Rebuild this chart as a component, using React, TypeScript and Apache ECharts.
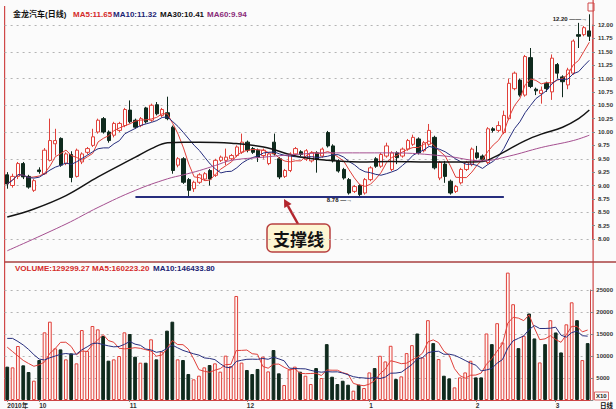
import React, { useEffect, useRef } from 'react';
import * as echarts from 'echarts';

// ---- price data, one entry per trading day ----
const opens = [
  9.20, 9.00, 9.17, 9.41, 9.17, 8.91, 9.29, 9.22, 9.47, 9.78,
  9.88, 9.41, 9.58, 9.17, 9.44, 9.62, 9.75, 10.00, 10.25, 10.00,
  9.94, 10.03, 10.12, 10.41, 10.22, 10.12, 10.45, 10.22, 10.51, 10.31,
  10.36, 10.09, 9.38, 9.50, 9.11, 8.94, 9.06, 9.12, 9.28, 9.19,
  9.47, 9.47, 9.50, 9.56, 9.62, 9.81, 9.69, 9.66, 9.56, 9.41,
  9.81, 9.50, 9.17, 9.28, 9.59, 9.63, 9.49, 9.46, 9.61, 9.55,
  9.99, 9.74, 9.46, 9.30, 9.11, 8.89, 9.00, 8.86, 9.11, 9.50,
  9.36, 9.55, 9.30, 9.61, 9.55, 9.68, 9.77, 9.87, 9.65, 9.77,
  9.90, 9.14, 9.40, 9.08, 8.89, 9.05, 9.30, 9.39, 9.61, 9.55,
  9.43, 10.06, 10.03, 9.99, 10.25, 10.81, 10.97, 10.69, 11.39, 10.80,
  10.72, 10.91, 10.75, 11.26, 11.03, 10.88, 11.10, 11.82, 11.82, 11.89,
];
const closes = [
  9.03, 9.17, 9.41, 9.16, 8.97, 9.09, 9.26, 9.66, 9.84, 9.84,
  9.38, 9.59, 9.15, 9.66, 9.59, 9.69, 9.91, 10.22, 10.00, 9.84,
  10.16, 10.16, 10.42, 10.19, 10.09, 10.25, 10.19, 10.50, 10.34, 10.42,
  10.25, 9.28, 9.50, 9.06, 8.91, 9.06, 9.20, 9.22, 9.12, 9.47,
  9.53, 9.53, 9.56, 9.72, 9.81, 9.66, 9.62, 9.53, 9.66, 9.59,
  9.59, 9.16, 9.28, 9.59, 9.69, 9.58, 9.65, 9.61, 9.49, 9.68,
  9.74, 9.46, 9.27, 9.14, 8.86, 8.98, 8.83, 9.11, 9.33, 9.36,
  9.58, 9.74, 9.61, 9.52, 9.68, 9.84, 9.90, 9.61, 9.80, 10.03,
  9.33, 9.43, 9.17, 8.86, 8.98, 9.30, 9.43, 9.68, 9.52, 9.49,
  10.06, 10.03, 10.12, 10.31, 10.91, 11.10, 10.69, 11.41, 10.85, 10.77,
  10.78, 10.81, 11.38, 11.10, 10.94, 11.16, 11.70, 11.79, 11.95, 11.79,
];
const lows = [
  8.94, 8.96, 9.12, 9.12, 8.94, 8.88, 9.22, 9.20, 9.45, 9.56,
  9.35, 9.38, 9.06, 9.15, 9.40, 9.58, 9.72, 9.97, 9.97, 9.80,
  9.90, 10.00, 10.09, 10.16, 10.06, 10.09, 10.16, 10.19, 10.31, 10.28,
  10.22, 9.22, 9.34, 9.03, 8.80, 8.88, 9.03, 9.09, 9.00, 9.16,
  9.44, 9.38, 9.47, 9.53, 9.59, 9.62, 9.59, 9.44, 9.50, 9.38,
  9.56, 9.12, 9.14, 9.25, 9.56, 9.55, 9.46, 9.43, 9.24, 9.52,
  9.71, 9.43, 9.24, 9.11, 8.83, 8.86, 8.78, 8.83, 9.08, 9.33,
  9.33, 9.52, 9.27, 9.40, 9.52, 9.65, 9.74, 9.58, 9.62, 9.74,
  9.30, 9.10, 9.05, 8.83, 8.86, 9.02, 9.27, 9.36, 9.49, 9.46,
  9.40, 9.99, 10.00, 9.96, 10.22, 10.78, 10.66, 10.66, 10.82, 10.69,
  10.53, 10.75, 10.60, 11.00, 10.65, 10.80, 11.07, 11.57, 11.79, 11.70,
];
const highs = [
  9.25, 9.22, 9.44, 9.44, 9.20, 9.12, 9.34, 9.70, 10.25, 10.06,
  9.90, 9.62, 9.64, 9.69, 9.62, 9.72, 10.06, 10.25, 10.28, 10.03,
  10.19, 10.19, 10.45, 10.59, 10.25, 10.28, 10.47, 10.53, 10.56, 10.45,
  10.66, 10.12, 9.53, 9.53, 9.14, 9.09, 9.23, 9.25, 9.31, 9.50,
  9.56, 9.69, 9.59, 9.75, 9.97, 9.84, 9.72, 9.69, 9.69, 9.62,
  9.97, 9.53, 9.31, 9.62, 9.72, 9.66, 9.68, 9.64, 9.64, 9.71,
  10.02, 9.77, 9.49, 9.33, 9.14, 9.01, 9.03, 9.14, 9.36, 9.53,
  9.61, 9.80, 9.64, 9.64, 9.71, 9.87, 9.95, 9.90, 9.83, 10.15,
  9.93, 9.46, 9.46, 9.11, 9.01, 9.33, 9.46, 9.71, 9.74, 9.58,
  10.09, 10.09, 10.20, 10.40, 11.00, 11.13, 11.00, 11.44, 11.57, 10.83,
  10.85, 10.94, 11.45, 11.29, 11.06, 11.20, 11.73, 12.04, 11.98, 12.20,
];
// volume, in units of 10 shares (axis is marked X10)
const volumes = [
  7580, 7420, 12270, 7880, 6360, 4390, 9090, 15380, 17800, 11740,
  11500, 9240, 10600, 8330, 15900, 11140, 16820, 16060, 14550, 8940,
  9240, 10000, 15380, 15000, 9850, 8480, 8480, 13790, 9240, 10990,
  15760, 17800, 9240, 9090, 5910, 4700, 5530, 7420, 7950, 8330,
  6440, 10080, 7730, 23640, 8500, 6820, 5900, 7050, 9850, 6500,
  11360, 6060, 3400, 6970, 7580, 6430, 5520, 3630, 7260, 4990,
  12700, 5290, 3630, 4380, 3480, 2120, 3480, 2720, 6270, 7260,
  10050, 8770, 12320, 4760, 5370, 10660, 12470, 15120, 9680, 18140,
  12930, 9300, 5520, 4910, 2870, 5140, 6270, 8920, 5140, 5140,
  15120, 12700, 17460, 13080, 28950, 21770, 11790, 14590, 19660, 13990,
  8540, 12700, 18140, 15350, 10810, 17200, 22200, 18140, 9070, 12930,
];
// volume averages on the first days (their windows reach before the picture)
const volMa5Lead = [12000, 11000, 10000, 9000];
const volMa10Lead = [14000, 14000, 13300, 12500, 11500, 10300, 9300, 9100, 9600];
// long price averages at sample days: [dayIndex, value]
const ma30Points = [
  [0, 8.41], [5, 8.56], [11, 8.81], [17, 9.16], [24, 9.53], [27, 9.69], [30, 9.80],
  [33, 9.81], [36, 9.81], [42, 9.79], [48, 9.72], [54, 9.55], [60, 9.47], [66, 9.44],
  [72, 9.45], [79, 9.44], [85, 9.44], [89, 9.45], [91, 9.52], [94, 9.68], [97, 9.84],
  [100, 9.96], [104, 10.09], [107, 10.25], [109, 10.41],
];
const ma60Points = [
  [0, 7.78], [11, 8.28], [17, 8.59], [24, 8.91], [30, 9.125], [33, 9.2], [36, 9.28],
  [39, 9.375], [42, 9.47], [48, 9.53], [54, 9.58], [60, 9.61], [72, 9.61], [82, 9.55],
  [89, 9.46], [94, 9.55], [100, 9.71], [106, 9.84], [109, 9.94],
];
const monthIdx = [0, 6, 23, 45, 68, 88, 103];
const monthText = ['2010年', '10', '11', '12', '1', '2', '3'];
const priceTicks = { min: 8, max: 12, step: 0.25 };
const volTicks = { min: 0, max: 25000, step: 5000 };
const supportLevel = 8.79;
const supportFrom = 24;
const supportTo = 93;
const lowMark = { day: 66, value: 8.78 };
const highMark = { day: 109, value: 12.2 };

function movingAvg(src: number[], n: number, lead: number[] = []): number[] {
  return src.map((_, i) => {
    if (i < lead.length) return lead[i];
    const s = Math.max(0, i - n + 1);
    let sum = 0;
    for (let k = s; k <= i; k++) sum += src[k];
    return +(sum / (i - s + 1)).toFixed(3);
  });
}

const RED = '#e0403a';
const NAVY = '#262d7d';
const DARK = '#0f2a1d';
const PURPLE = '#a54f90';
const LAT = '"Liberation Sans", Arial, "Noto Sans CJK SC", sans-serif';

export default function App() {
  const ref = useRef<HTMLDivElement>(null);
  useEffect(() => {
    const chart = echarts.init(ref.current!, null, { renderer: 'svg' });
    const cats = opens.map((_, i) => 'd' + i);
    const kdata = opens.map((o, i) => [o, closes[i], lows[i], highs[i]]);
    const ma5 = movingAvg(closes, 5);
    const ma10 = movingAvg(closes, 10);
    const vma5 = movingAvg(volumes, 5, volMa5Lead);
    const vma10 = movingAvg(volumes, 10, volMa10Lead);
    const volData = volumes.map((v, i) => {
      const up = closes[i] >= opens[i];
      return {
        value: v,
        itemStyle: up
          ? { color: '#fff6f4', borderColor: RED, borderWidth: 1 }
          : { color: DARK, borderColor: DARK, borderWidth: 1 },
      };
    });
    const gridColor = '#b4b4b4';
    const clear = 'rgba(0,0,0,0)';
    const L = 4.6;
    const W = 588.5;
    const axisLab = { fontSize: 6, fontWeight: 'bold' as const, color: '#333', fontFamily: LAT };

    const txt = (x: number, y: number, text: string, fill: string, size = 8, weight = 'bold', align = 'left') => ({
      type: 'text', x, y, silent: true,
      style: { text, fill, fontSize: size, fontWeight: weight, fontFamily: LAT, verticalAlign: 'middle', align },
    });
    const ln = (x1: number, y1: number, x2: number, y2: number, stroke: string, w = 1) => ({
      type: 'line', silent: true, shape: { x1, y1, x2, y2 }, style: { stroke, lineWidth: w },
    });

    // arrow geometry
    const tip = [284, 199];
    const tail = [298, 224];
    const dx = tip[0] - tail[0], dy = tip[1] - tail[1];
    const len = Math.hypot(dx, dy);
    const ux = dx / len, uy = dy / len;
    const bx = tip[0] - 8 * ux, by = tip[1] - 8 * uy;
    const px = -uy, py = ux;

    const graphics: any[] = [
      ln(L, 6, L, 400, '#d04848', 1.2),
      ln(L + W, 0, L + W, 400, '#d04848', 1.2),
      ln(L, 262, 616, 262, '#a84040', 1.6),
      { type: 'rect', silent: true, shape: { x: 588, y: 3, width: 6, height: 8 }, style: { fill: 'none', stroke: '#d04848', lineWidth: 1 } },
      txt(13, 14, '金龙汽车(日线)', '#111'),
      txt(73, 14, 'MA5:11.65', '#d42a2a'),
      txt(113, 14, 'MA10:11.32', '#1c2474'),
      txt(160, 14, 'MA30:10.41', '#111'),
      txt(207, 14, 'MA60:9.94', '#8a2a78'),
      txt(15, 268, 'VOLUME:129299.27', '#d42a2a'),
      txt(92, 268, 'MA5:160223.20', '#d42a2a'),
      txt(153, 268, 'MA10:146433.80', '#1c2474'),
      { type: 'rect', silent: true, shape: { x: 594.5, y: 392, width: 14, height: 8 }, style: { fill: '#fbfbfb', stroke: '#d04848', lineWidth: 0.8 } },
      txt(596, 396.3, 'X10', '#222', 6),
      txt(600, 405.5, '日线', '#111', 6.5),
      ln(tail[0], tail[1], bx, by, '#b3262e', 2.5),
      {
        type: 'polygon', silent: true,
        shape: { points: [[tip[0], tip[1]], [bx + 4.2 * px, by + 4.2 * py], [bx - 4.2 * px, by - 4.2 * py]] },
        style: { fill: '#b3262e' },
      },
      { type: 'rect', silent: true, shape: { x: 267, y: 224, width: 63, height: 28, r: 5 }, style: { fill: '#fdf6d3', stroke: '#b84040', lineWidth: 1.5 } },
      {
        type: 'text', silent: true, x: 298.5, y: 238.5,
        style: { text: '支撑线', fill: '#111', fontSize: 17, fontWeight: 'bold', fontFamily: '"Noto Sans CJK SC", sans-serif', align: 'center', verticalAlign: 'middle' },
      },
    ];

    const option: any = {
      animation: false,
      backgroundColor: '#fbfbfb',
      grid: [
        { left: L, width: W, top: 25, height: 214 },
        { left: L, width: W, top: 290, height: 110 },
      ],
      xAxis: [
        { type: 'category', gridIndex: 0, data: cats, boundaryGap: true, show: false },
        {
          type: 'category', gridIndex: 1, data: cats, boundaryGap: true,
          axisLine: { lineStyle: { color: '#cc4444', width: 1 } },
          axisTick: { show: true, interval: (i: number) => monthIdx.includes(i), alignWithLabel: true, length: 2, lineStyle: { color: '#888' } },
          axisLabel: {
            interval: (i: number) => monthIdx.includes(i),
            formatter: (_v: string, i: number) => { const k = monthIdx.indexOf(i); return k >= 0 ? monthText[k] : ''; },
            align: 'left', margin: 2, fontSize: 6.5, fontWeight: 'bold', color: '#333', fontFamily: LAT,
          },
          splitLine: { show: false },
        },
      ],
      yAxis: [
        {
          type: 'value', gridIndex: 0, position: 'right', scale: true,
          min: priceTicks.min, max: priceTicks.max, interval: priceTicks.step,
          axisLine: { show: true, lineStyle: { color: '#cc4444' } },
          axisTick: { show: true, length: 3, lineStyle: { color: '#888' } },
          axisLabel: { ...axisLab, margin: 6, formatter: (v: number) => v.toFixed(2) },
          splitLine: { show: true, lineStyle: { color: [gridColor, clear], type: [2, 4], width: 1 } },
        },
        {
          type: 'value', gridIndex: 1, position: 'right',
          min: volTicks.min, max: volTicks.max, interval: volTicks.step,
          axisLine: { show: true, lineStyle: { color: '#cc4444' } },
          axisTick: { show: true, length: 3, lineStyle: { color: '#888' } },
          axisLabel: { ...axisLab, margin: 6, formatter: (v: number) => (v > 0 ? String(v) : '') },
          splitLine: { show: true, lineStyle: { color: [clear, gridColor, gridColor, gridColor, gridColor, gridColor], type: [2, 4], width: 1 } },
        },
      ],
      series: [
        {
          type: 'candlestick', xAxisIndex: 0, yAxisIndex: 0, data: kdata, clip: false,
          barWidth: 3.8,
          itemStyle: { color: '#ffffff', color0: DARK, borderColor: RED, borderColor0: DARK, borderWidth: 1 },
          markLine: {
            silent: true, symbol: ['none', 'none'], label: { show: false },
            lineStyle: { color: NAVY, width: 2, type: 'solid' },
            data: [[{ coord: [supportFrom, supportLevel] }, { coord: [supportTo, supportLevel] }]],
          },
          markPoint: {
            silent: true, symbol: 'circle', symbolSize: 1, itemStyle: { color: clear },
            label: { show: true, position: 'left', fontSize: 6, color: '#222', fontFamily: LAT, fontWeight: 'bold' },
            data: [
              { coord: [lowMark.day, lowMark.value], value: lowMark.value, label: { formatter: lowMark.value.toFixed(2) + ' —→', offset: [-2, 3] } },
            ],
          },
        },
        { type: 'line', name: 'MA5', xAxisIndex: 0, yAxisIndex: 0, data: ma5, showSymbol: false, clip: false, lineStyle: { color: RED, width: 1 }, z: 3 },
        { type: 'line', name: 'MA10', xAxisIndex: 0, yAxisIndex: 0, data: ma10, showSymbol: false, clip: false, lineStyle: { color: NAVY, width: 1 }, z: 3 },
        { type: 'line', name: 'MA30', xAxisIndex: 0, yAxisIndex: 0, data: ma30Points, showSymbol: false, smooth: 0.4, clip: false, lineStyle: { color: '#141414', width: 1.5 }, z: 3 },
        { type: 'line', name: 'MA60', xAxisIndex: 0, yAxisIndex: 0, data: ma60Points, showSymbol: false, smooth: 0.4, clip: false, lineStyle: { color: PURPLE, width: 1 }, z: 3 },
        { type: 'bar', name: 'VOL', xAxisIndex: 1, yAxisIndex: 1, data: volData, barWidth: '70%', clip: false },
        { type: 'line', name: 'VMA5', xAxisIndex: 1, yAxisIndex: 1, data: vma5, showSymbol: false, clip: false, lineStyle: { color: RED, width: 1 }, z: 3 },
        { type: 'line', name: 'VMA10', xAxisIndex: 1, yAxisIndex: 1, data: vma10, showSymbol: false, clip: false, lineStyle: { color: NAVY, width: 1 }, z: 3 },
      ],
      graphic: graphics,
    };
    chart.setOption(option);
    // the high of the last day lies above the axis range, so place its note through the scale
    const hp = chart.convertToPixel({ xAxisIndex: 0, yAxisIndex: 0 }, [highMark.day, highMark.value]) as number[];
    if (hp && isFinite(hp[0]) && isFinite(hp[1])) {
      chart.setOption({
        graphic: [...graphics, txt(hp[0] - 2, hp[1] + 4.5, highMark.value.toFixed(2) + ' ——→', '#222', 6, 'bold', 'right')],
      });
    }
    return () => chart.dispose();
  }, []);
  return <div ref={ref} style={{ position: 'fixed', left: 0, top: 0, width: 616, height: 409 }} />;
}
